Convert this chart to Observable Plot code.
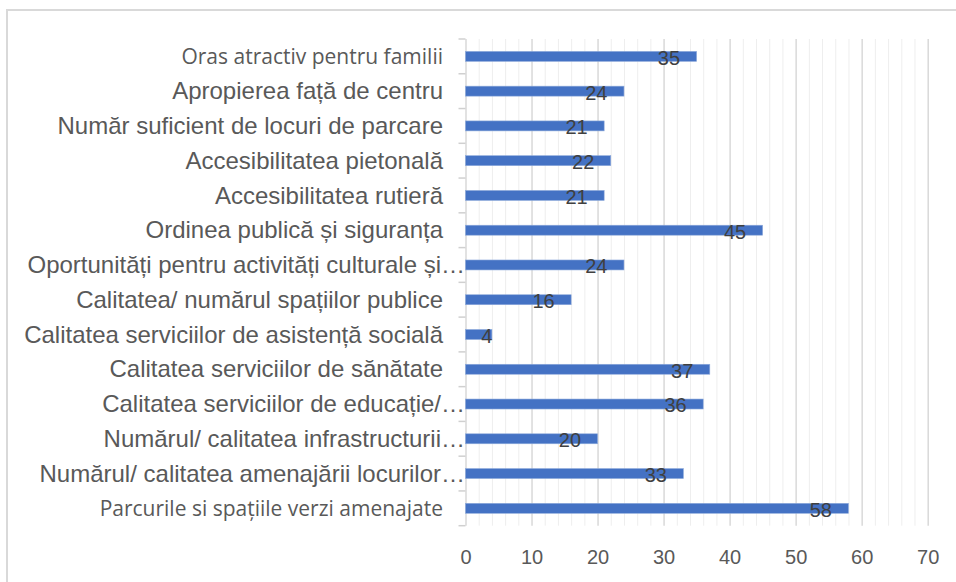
<!DOCTYPE html>
<html>
<head>
<meta charset="utf-8">
<script src="https://cdn.jsdelivr.net/npm/d3@7"></script>
<script src="https://cdn.jsdelivr.net/npm/@observablehq/plot@0.6"></script>
<style>
  html, body { margin: 0; padding: 0; background: #fff; overflow: hidden; }
  #wrap { position: relative; width: 956px; height: 582px; overflow: hidden; }
  #frame { position: absolute; left: 6px; top: 9px; width: 2000px; height: 2000px;
           border: 2px solid #d9d9d9; box-sizing: border-box; }
  #chart { position: absolute; left: 0; top: 0; }
</style>
</head>
<body>
<div id="wrap"><div id="frame"></div><div id="chart"></div></div>
<script>
const categories = [
  "Oras atractiv pentru familii",
  "Apropierea față de centru",
  "Număr suficient de locuri de parcare",
  "Accesibilitatea pietonală",
  "Accesibilitatea rutieră",
  "Ordinea publică și siguranța",
  "Oportunități pentru activități culturale și…",
  "Calitatea/ numărul spațiilor publice",
  "Calitatea serviciilor de asistență socială",
  "Calitatea serviciilor de sănătate",
  "Calitatea serviciilor de educație/…",
  "Numărul/ calitatea infrastructurii…",
  "Numărul/ calitatea amenajării locurilor…",
  "Parcurile si spațiile verzi amenajate"
];
const values = [35, 24, 21, 22, 21, 45, 24, 16, 4, 37, 36, 20, 33, 58];
const xTicks = [0, 10, 20, 30, 40, 50, 60, 70];
const minorTicks = [2, 4, 6, 8, 12, 14, 16, 18, 22, 24, 26, 28, 32, 34, 36, 38, 42, 44, 46, 48, 52, 54, 56, 58, 62, 64, 66, 68];
const altFontLabels = ["Oras atractiv pentru familii", "Parcurile si spațiile verzi amenajate"];

const data = categories.map((c, i) => ({category: c, value: values[i]}));
const altSet = new Set(altFontLabels);
const isTrunc = c => c.endsWith("…");

function bandTicks(index, scales) {
  const y = scales.y;
  const bw = typeof y.bandwidth === "function" ? y.bandwidth() : 0;
  const g = d3.create("svg:g").attr("stroke", "#d0d0d0").attr("stroke-width", 1.5);
  const x0 = scales.x(0);
  const ys = categories.map(c => y(c));
  ys.push(y(categories[categories.length - 1]) + bw);
  for (const yy of ys) {
    g.append("line").attr("x1", x0 - 7).attr("x2", x0).attr("y1", yy).attr("y2", yy);
  }
  return g.node();
}

const chart = Plot.plot({
  width: 956,
  height: 582,
  marginLeft: 465.5,
  marginRight: 28.3,
  marginTop: 39,
  marginBottom: 56.3,
  style: {background: "transparent", fontFamily: "'Liberation Sans', Arial, sans-serif"},
  x: {domain: [0, 70], label: null},
  y: {domain: categories, padding: 0, round: false, axis: null},
  marks: [
    Plot.ruleX(minorTicks, {stroke: "#eeeeee", strokeWidth: 1}),
    Plot.ruleX(xTicks, {stroke: "#d9d9d9", strokeWidth: 1.5}),
    bandTicks,
    Plot.barX(data, {x: "value", y: "category", fill: "#4472C4", insetTop: 12.4, insetBottom: 12.4,
                     stroke: "#8eaadb", strokeWidth: 0.6}),
    Plot.text(data.filter(d => d.value >= 10), {x: "value", y: "category", text: d => String(d.value),
      textAnchor: "end", dx: -17, dy: 1.5, fontSize: 20, fill: "#404040"}),
    Plot.text(data.filter(d => d.value < 10), {x: "value", y: "category", text: d => String(d.value),
      textAnchor: "end", dx: 0, dy: 1.5, fontSize: 20, fill: "#404040"}),
    Plot.axisX({ticks: xTicks, tickSize: 0, tickPadding: 24, fontSize: 20, fill: "#595959", label: null}),
    Plot.text(categories.filter(c => !altSet.has(c) && !isTrunc(c)), {y: d => d, frameAnchor: "left", textAnchor: "end",
      dx: -23, fontSize: 24, fill: "#595959"}),
    Plot.text(categories.filter(c => isTrunc(c)), {y: d => d, frameAnchor: "left", textAnchor: "end",
      dx: -1, fontSize: 24, fill: "#595959"}),
    Plot.text(categories.filter(c => altSet.has(c)), {y: d => d, frameAnchor: "left", textAnchor: "end",
      dx: -23, fontSize: 21, fill: "#595959", fontFamily: "'Open Sans', sans-serif"})
  ]
});
document.getElementById("chart").appendChild(chart);
</script>
</body>
</html>
